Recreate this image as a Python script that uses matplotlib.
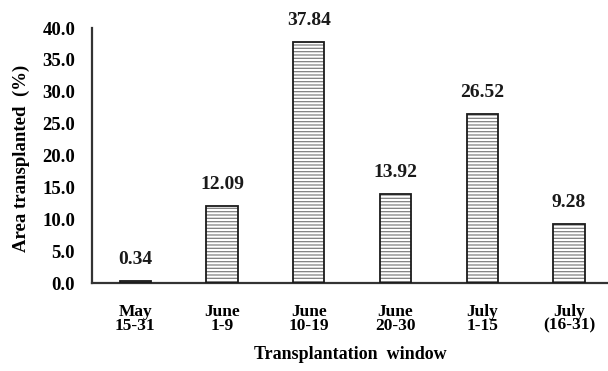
import matplotlib
matplotlib.use('Agg')
import matplotlib.pyplot as plt
import numpy as np

# data
windows = ["May\n15-31", "June\n1-9", "June\n10-19", "June\n20-30", "July\n1-15", "July\n(16-31)"]
area_pct = [0.34, 12.09, 37.84, 13.92, 26.52, 9.28]
yticks = [0, 5, 10, 15, 20, 25, 30, 35, 40]

plt.rcParams['font.family'] = ['Liberation Serif', 'DejaVu Serif']
plt.rcParams['font.weight'] = 'bold'
plt.rcParams['hatch.linewidth'] = 0.9

fig = plt.figure(figsize=(6.08, 3.71), dpi=100)
ax = fig.add_axes([0.151, 0.237, 0.849, 0.6875])

x = np.arange(len(windows))
barwidth = 0.36

# hatch layer (grey lines) then black outline on top
ax.bar(x, area_pct, barwidth, color='white', edgecolor='#808080', linewidth=0, hatch='-----', zorder=2)
ax.bar(x, area_pct, barwidth, fill=False, edgecolor='#1a1a1a', linewidth=1.3, zorder=3)

for xi, v in zip(x, area_pct):
    ax.annotate("%.2f" % v, (xi, v), xytext=(0, 9.5), textcoords='offset points',
                ha='center', va='bottom', fontsize=14, fontweight='bold', color='#1a1a1a')

ax.set_xlim(-0.5, 5.45)
ax.set_ylim(0, 40)
ax.set_yticks(yticks)
ax.set_yticklabels(["%.1f" % t for t in yticks], fontsize=13.5, fontweight='bold')
ax.set_xticks(x)
ax.set_xticklabels(windows, fontsize=12.5, fontweight='bold', linespacing=0.8)
ax.tick_params(axis='both', which='both', length=0)
ax.tick_params(axis='y', pad=12)
ax.tick_params(axis='x', pad=15)

ax.set_xlabel("Transplantation  window", fontsize=13, fontweight='bold', labelpad=9)
ax.set_ylabel("Area transplanted  (%)", fontsize=13.5, fontweight='bold')
ax.yaxis.set_label_coords(-0.12, 0.49)

ax.spines['top'].set_visible(False)
ax.spines['right'].set_visible(False)
for s in ['left', 'bottom']:
    ax.spines[s].set_linewidth(1.6)
    ax.spines[s].set_color('#333333')

plt.savefig('out.png', dpi=100)
